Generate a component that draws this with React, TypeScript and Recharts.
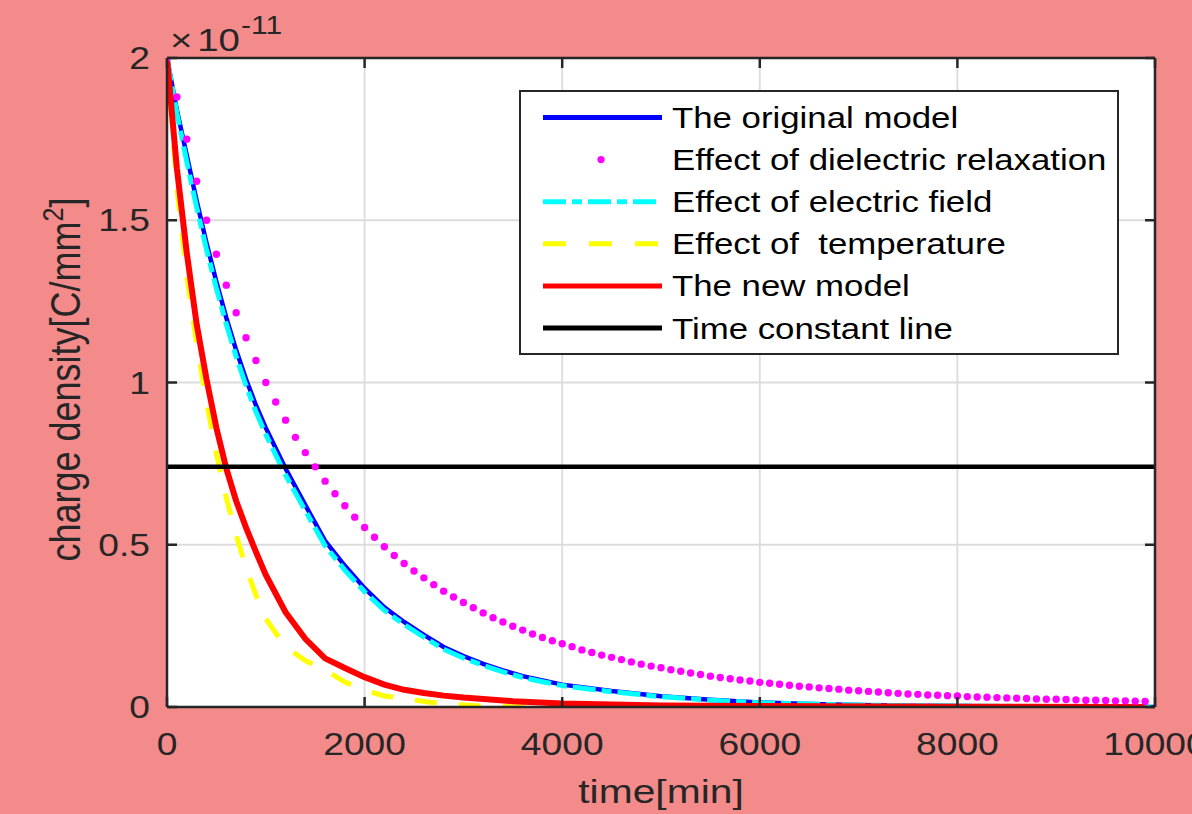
import React from 'react';
import { LineChart, Line, XAxis, YAxis, CartesianGrid, Label, Legend } from 'recharts';

const BG = '#F38B8A';
const AXIS = '#262626';
const SX = 1.2;
const FONT = '"Liberation Sans", Arial, Helvetica, sans-serif';

const xTicks = [0, 2000, 4000, 6000, 8000, 10000];
const xTickLabels = ['0', '2000', '4000', '6000', '8000', '10000'];
const yTicks = [0, 0.5, 1, 1.5, 2];
const yTickLabels = ['0', '0.5', '1', '1.5', '2'];

const legendLabels = [
  'The original model',
  'Effect of dielectric relaxation',
  'Effect of electric field',
  'Effect of  temperature',
  'The new model',
  'Time constant line',
];

// The original model (blue)
const originalT = [0, 100, 200, 300, 400, 500, 600, 700, 800, 900, 1000, 1200, 1400, 1600, 1800, 2000, 2200, 2400, 2600, 2800, 3000, 3200, 3400, 3600, 3800, 4000, 4500, 5000, 5500, 6000, 6500, 7000, 7500, 8000, 9000, 10000];
const originalV = [2.0, 1.84, 1.70, 1.56, 1.43, 1.31, 1.20, 1.10, 1.01, 0.93, 0.86, 0.735, 0.622, 0.512, 0.435, 0.366, 0.307, 0.262, 0.222, 0.185, 0.157, 0.133, 0.113, 0.095, 0.082, 0.069, 0.049, 0.033, 0.022, 0.014, 0.009, 0.006, 0.004, 0.003, 0.001, 0.0];

// Effect of dielectric relaxation (magenta markers)
const dielectricT = [0, 100, 200, 300, 400, 500, 600, 700, 800, 900, 1000, 1100, 1200, 1300, 1400, 1500, 1600, 1700, 1800, 1900, 2000, 2100, 2200, 2300, 2400, 2500, 2600, 2700, 2800, 2900, 3000, 3100, 3200, 3300, 3400, 3500, 3600, 3700, 3800, 3900, 4000, 4100, 4200, 4300, 4400, 4500, 4600, 4700, 4800, 4900, 5000, 5100, 5200, 5300, 5400, 5500, 5600, 5700, 5800, 5900, 6000, 6100, 6200, 6300, 6400, 6500, 6600, 6700, 6800, 6900, 7000, 7100, 7200, 7300, 7400, 7500, 7600, 7700, 7800, 7900, 8000, 8100, 8200, 8300, 8400, 8500, 8600, 8700, 8800, 8900, 9000, 9100, 9200, 9300, 9400, 9500, 9600, 9700, 9800, 9900];
const dielectricV = [2.0, 1.88, 1.75, 1.62, 1.50, 1.395, 1.30, 1.215, 1.138, 1.068, 1.0, 0.94, 0.884, 0.831, 0.784, 0.740, 0.696, 0.657, 0.620, 0.585, 0.553, 0.523, 0.494, 0.467, 0.442, 0.419, 0.398, 0.377, 0.357, 0.339, 0.322, 0.306, 0.290, 0.275, 0.262, 0.249, 0.237, 0.225, 0.214, 0.204, 0.195, 0.186, 0.176, 0.168, 0.160, 0.153, 0.146, 0.139, 0.132, 0.126, 0.121, 0.115, 0.110, 0.105, 0.100, 0.095, 0.091, 0.087, 0.083, 0.080, 0.076, 0.073, 0.070, 0.067, 0.064, 0.062, 0.059, 0.057, 0.055, 0.052, 0.050, 0.048, 0.046, 0.044, 0.042, 0.040, 0.039, 0.037, 0.036, 0.035, 0.034, 0.032, 0.031, 0.030, 0.029, 0.028, 0.027, 0.026, 0.025, 0.024, 0.024, 0.023, 0.022, 0.021, 0.021, 0.020, 0.019, 0.019, 0.018, 0.017];

// Effect of electric field (cyan dash-dot)
const fieldT = [0, 100, 200, 300, 400, 500, 600, 700, 800, 900, 1000, 1200, 1400, 1600, 1800, 2000, 2200, 2400, 2600, 2800, 3000, 3200, 3400, 3600, 3800, 4000, 4500, 5000, 5500, 6000, 6500, 7000, 7500, 8000, 9000, 10000];
const fieldV = [2.0, 1.83, 1.68, 1.54, 1.41, 1.29, 1.18, 1.08, 0.99, 0.91, 0.84, 0.715, 0.605, 0.497, 0.422, 0.355, 0.298, 0.254, 0.215, 0.178, 0.151, 0.128, 0.108, 0.091, 0.078, 0.066, 0.047, 0.032, 0.021, 0.013, 0.009, 0.006, 0.004, 0.003, 0.001, 0.0];

// Effect of temperature (yellow dashed)
const tempT = [0, 100, 200, 300, 400, 500, 600, 700, 800, 900, 1000, 1200, 1400, 1600, 1800, 2000, 2200, 2400, 2600, 2800, 3000, 3200, 3500, 4000];
const tempV = [2.0, 1.60, 1.33, 1.12, 0.94, 0.78, 0.645, 0.53, 0.43, 0.345, 0.272, 0.185, 0.143, 0.114, 0.077, 0.052, 0.034, 0.027, 0.017, 0.010, 0.006, 0.003, 0.001, 0.0];

// The new model (red)
const newT = [0, 100, 200, 300, 400, 500, 600, 700, 800, 900, 1000, 1200, 1400, 1600, 1800, 2000, 2200, 2400, 2600, 2800, 3000, 3500, 4000, 5000, 6000, 8000, 9900];
const newV = [2.0, 1.66, 1.40, 1.18, 1.01, 0.86, 0.735, 0.635, 0.553, 0.478, 0.407, 0.292, 0.21, 0.150, 0.120, 0.092, 0.069, 0.053, 0.043, 0.035, 0.029, 0.018, 0.011, 0.005, 0.003, 0.001, 0.0];

// Time constant line (black)
const constT = [0, 10000];
const constV = [0.74, 0.74];

const toPoints = (ts: number[], vs: number[]) => ts.map((t, i) => ({ t, v: vs[i] }));

const XTick = (props: any) => {
  const { x, y, payload } = props;
  const i = xTicks.indexOf(payload.value);
  return (
    <g>
      <line x1={x} x2={x} y1={y} y2={y - 10} stroke={AXIS} strokeWidth={2.5} />
      <text transform={`translate(${x},${y + 48}) scale(${SX},1)`} textAnchor="middle" fontSize={31} fill={AXIS} fontFamily={FONT}>
        {i >= 0 ? xTickLabels[i] : payload.value}
      </text>
    </g>
  );
};

const TopTick = (props: any) => {
  const { x, y } = props;
  return <line x1={x} x2={x} y1={y} y2={y + 10} stroke={AXIS} strokeWidth={2.5} />;
};

const YTick = (props: any) => {
  const { x, y, payload } = props;
  const i = yTicks.indexOf(payload.value);
  return (
    <g>
      <line x1={x} x2={x + 10} y1={y} y2={y} stroke={AXIS} strokeWidth={2.5} />
      <text transform={`translate(${x - 17},${y + 11}) scale(${SX},1)`} textAnchor="end" fontSize={31} fill={AXIS} fontFamily={FONT}>
        {i >= 0 ? yTickLabels[i] : payload.value}
      </text>
    </g>
  );
};

const RightTick = (props: any) => {
  const { x, y } = props;
  return <line x1={x} x2={x - 10} y1={y} y2={y} stroke={AXIS} strokeWidth={2.5} />;
};

const XTitle = (props: any) => {
  const vb = props.viewBox;
  return (
    <text transform={`translate(${vb.x + vb.width / 2},${vb.y + 96}) scale(${SX},1)`} textAnchor="middle" fontSize={34} fill={AXIS} fontFamily={FONT}>
      time[min]
    </text>
  );
};

const YTitle = (props: any) => {
  const vb = props.viewBox;
  return (
    <text transform={`translate(${vb.x - 86},${vb.y + vb.height / 2 - 3}) scale(${SX},1) rotate(-90)`} textAnchor="middle" fontSize={36} fill={AXIS} fontFamily={FONT}>
      charge density[C/mm<tspan dy={-14} fontSize={25}>2</tspan><tspan dy={14}>]</tspan>
    </text>
  );
};

const ExpLabel = (props: any) => {
  const vb = props.viewBox;
  return (
    <text transform={`translate(${vb.x + 3},${vb.y - 6}) scale(${SX},1)`} textAnchor="start" fontSize={32} fill={AXIS} fontFamily={FONT}>
      ×<tspan dx={4}>10</tspan><tspan dx={1} dy={-17} fontSize={25}>-11</tspan>
    </text>
  );
};

const legendStyles = [
  { kind: 'line', color: '#0000FF', dash: undefined },
  { kind: 'dot', color: '#FF00FF', dash: undefined },
  { kind: 'line', color: '#00FFFF', dash: '23 6 10 6' },
  { kind: 'line', color: '#FFFF00', dash: '23 23' },
  { kind: 'line', color: '#FF0000', dash: undefined },
  { kind: 'line', color: '#000000', dash: undefined },
];

const LegendBox = () => (
  <svg width={600} height={265} style={{ display: 'block' }}>
    <rect x={1} y={1} width={598} height={263} fill="#fff" stroke={AXIS} strokeWidth={2} />
    {legendLabels.map((name, i) => {
      const cy = 27.5 + i * 42.1;
      const s = legendStyles[i];
      return (
        <g key={name}>
          {s.kind === 'dot' ? (
            <circle cx={82} cy={cy} r={3.6} fill={s.color} />
          ) : (
            <line x1={24} x2={143} y1={cy} y2={cy} stroke={s.color} strokeWidth={5} strokeDasharray={s.dash} />
          )}
          <text transform={`translate(153,${cy + 10.5}) scale(${SX},1)`} fontSize={29} fill="#000" fontFamily={FONT} style={{ whiteSpace: 'pre' }}>
            {name}
          </text>
        </g>
      );
    })}
  </svg>
);

export default function App() {
  return (
    <div style={{ position: 'absolute', left: 0, top: 0, width: 1192, height: 814, background: BG, overflow: 'hidden' }}>
      <LineChart width={1192} height={814} margin={{ top: 57, right: 36, bottom: 106, left: 166 }}>
        <CartesianGrid fill="#fff" stroke="#dcdcdc" strokeWidth={1.8} />
        <XAxis
          dataKey="t"
          type="number"
          domain={[0, 10000]}
          ticks={xTicks}
          height={1}
          tickSize={0}
          tickMargin={0}
          tickLine={false}
          axisLine={{ stroke: AXIS, strokeWidth: 2.5 }}
          tick={<XTick />}
          allowDataOverflow
          interval={0}
        >
          <Label content={<XTitle />} />
        </XAxis>
        <XAxis
          xAxisId="top"
          orientation="top"
          dataKey="t"
          type="number"
          domain={[0, 10000]}
          ticks={xTicks}
          height={1}
          tickSize={0}
          tickMargin={0}
          tickLine={false}
          tick={<TopTick />}
          axisLine={{ stroke: AXIS, strokeWidth: 2.5 }}
          allowDataOverflow
          interval={0}
        >
          <Label content={<ExpLabel />} />
        </XAxis>
        <YAxis
          type="number"
          domain={[0, 2]}
          ticks={yTicks}
          width={1}
          tickSize={0}
          tickMargin={0}
          tickLine={false}
          axisLine={{ stroke: AXIS, strokeWidth: 2.5 }}
          tick={<YTick />}
          allowDataOverflow
          interval={0}
        >
          <Label content={<YTitle />} />
        </YAxis>
        <YAxis
          yAxisId="right"
          orientation="right"
          type="number"
          domain={[0, 2]}
          ticks={yTicks}
          width={1}
          tickSize={0}
          tickMargin={0}
          tickLine={false}
          tick={<RightTick />}
          axisLine={{ stroke: AXIS, strokeWidth: 2.5 }}
          allowDataOverflow
          interval={0}
        />
        <Line data={toPoints(originalT, originalV)} dataKey="v" type="linear" stroke="#0000FF" strokeWidth={4.5} dot={false} isAnimationActive={false} />
        <Line data={toPoints(dielectricT, dielectricV)} dataKey="v" type="linear" stroke="none" strokeWidth={0} dot={{ r: 3.7, fill: '#FF00FF', stroke: 'none' }} isAnimationActive={false} />
        <Line data={toPoints(fieldT, fieldV)} dataKey="v" type="linear" stroke="#00FFFF" strokeWidth={5} strokeDasharray="23 6 10 6" dot={false} isAnimationActive={false} />
        <Line data={toPoints(tempT, tempV)} dataKey="v" type="linear" stroke="#FFFF00" strokeWidth={5} strokeDasharray="22 22" dot={false} isAnimationActive={false} />
        <Line data={toPoints(newT, newV)} dataKey="v" type="linear" stroke="#FF0000" strokeWidth={6} dot={false} isAnimationActive={false} />
        <Line data={toPoints(constT, constV)} dataKey="v" type="linear" stroke="#000000" strokeWidth={4.5} dot={false} isAnimationActive={false} />
        <Legend
          layout="vertical"
          align="center"
          verticalAlign="middle"
          content={() => <LegendBox />}
          wrapperStyle={{ left: 519, top: 90, width: 600, height: 265 }}
        />
      </LineChart>
    </div>
  );
}
